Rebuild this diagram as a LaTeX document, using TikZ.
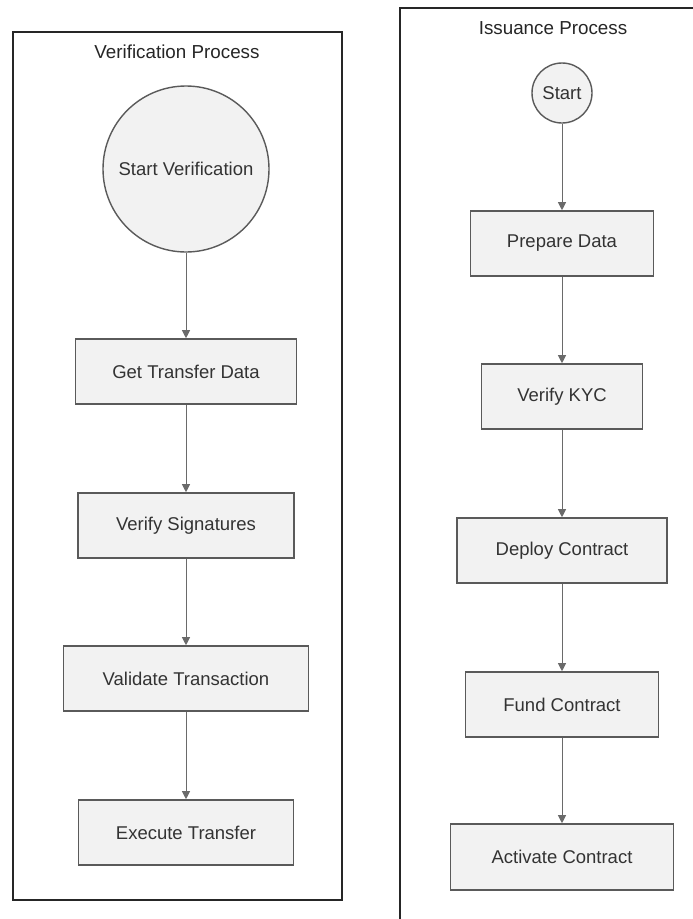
\documentclass[tikz,border=0pt]{standalone}
\usepackage{fontspec}
\setmainfont{Liberation Sans}
\usetikzlibrary{arrows.meta}
\definecolor{boxfill}{HTML}{F2F2F2}
\definecolor{boxline}{HTML}{5A5A5A}
\definecolor{arrowline}{HTML}{6A6A6A}
\definecolor{labeltext}{HTML}{333333}
\tikzset{
  framebox/.style={draw=black!85, line width=2pt},
  frametitle/.style={text=black!85, font=\fontsize{18.8}{22}\selectfont, inner sep=0pt},
  stepbox/.style={rectangle, draw=boxline, fill=boxfill, line width=1.6pt,
    minimum height=65pt, inner sep=0pt, text=labeltext,
    font=\fontsize{18.5}{22}\selectfont},
  startnode/.style={circle, draw=boxline, fill=boxfill, line width=1.4pt,
    inner sep=0pt, text=labeltext, font=\fontsize{18.5}{22}\selectfont},
  flow/.style={draw=arrowline, line width=1pt,
    -{Triangle[length=8pt,width=8pt,fill=arrowline]}}
}
\begin{document}
\begin{tikzpicture}[x=1pt, y=-1pt]
\useasboundingbox (0,0) rectangle (693,919);
\fill[white] (0,0) rectangle (693,919);
\clip (0,0) rectangle (693,919);

% ---- Verification Process ----
\draw[framebox] (13,32) rectangle (342,900);
\node[frametitle] (vtitle) at (177,52) {Verification Process};
\node[startnode, minimum size=166pt] (vstart) at (186,169) {Start Verification};
\node[stepbox, minimum width=221pt] (vget) at (186,371.5) {Get Transfer Data};
\node[stepbox, minimum width=216pt] (vsig) at (186,525.5) {Verify Signatures};
\node[stepbox, minimum width=245pt] (vval) at (186,678.5) {Validate Transaction};
\node[stepbox, minimum width=215pt] (vexe) at (186,832.5) {Execute Transfer};

\draw[flow] (vstart.south) -- (vget.north);
\draw[flow] (vget.south) -- (vsig.north);
\draw[flow] (vsig.south) -- (vval.north);
\draw[flow] (vval.south) -- (vexe.north);

% ---- Issuance Process ----
\draw[framebox] (400,8) rectangle (720,940);
\node[frametitle] (ititle) at (553,28) {Issuance Process};
\node[startnode, minimum size=60pt] (istart) at (562,93) {Start};
\node[stepbox, minimum width=183pt] (iprep) at (562,243.5) {Prepare Data};
\node[stepbox, minimum width=161pt] (ikyc) at (562,396.5) {Verify KYC};
\node[stepbox, minimum width=210pt] (idep) at (562,550.5) {Deploy Contract};
\node[stepbox, minimum width=193pt] (ifund) at (562,704.5) {Fund Contract};
\node[stepbox, minimum width=223pt, minimum height=66pt] (iact) at (562,857) {Activate Contract};

\draw[flow] (istart.south) -- (iprep.north);
\draw[flow] (iprep.south) -- (ikyc.north);
\draw[flow] (ikyc.south) -- (idep.north);
\draw[flow] (idep.south) -- (ifund.north);
\draw[flow] (ifund.south) -- (iact.north);
\end{tikzpicture}
\end{document}
